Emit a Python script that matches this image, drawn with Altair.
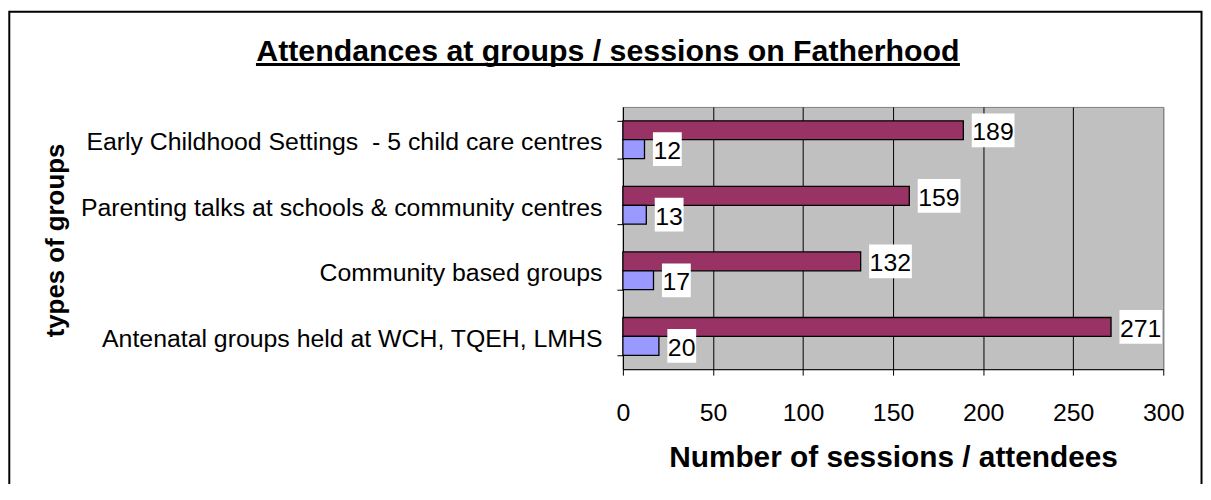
import altair as alt
import pandas as pd

# ---- data ----
categories = [
    "Early Childhood Settings \u00a0- 5 child care centres",
    "Parenting talks at schools & community centres",
    "Community based groups",
    "Antenatal groups held at WCH, TQEH, LMHS",
]
attendees = [189, 159, 132, 271]
sessions = [12, 13, 17, 20]
series = ["Attendees", "Sessions"]
colors = ["#993366", "#9999FF"]
x_ticks = [0, 50, 100, 150, 200, 250, 300]
title_text = "Attendances at groups / sessions on Fatherhood"
x_title = "Number of sessions / attendees"
y_title = "types of groups"

rows = []
for c, a, s in zip(categories, attendees, sessions):
    rows.append({"group": c, "series": series[0], "value": a})
    rows.append({"group": c, "series": series[1], "value": s})
df = pd.DataFrame(rows)
one = pd.DataFrame({"t": [title_text]})

FONT = "Liberation Sans"
W, H = 544, 264

y_enc = alt.Y(
    "group:N",
    sort=categories,
    scale=alt.Scale(paddingInner=0.424, paddingOuter=0.212),
    title=y_title,
    axis=alt.Axis(
        domainColor="black", domainWidth=1,
        tickColor="black", tickSize=6, tickWidth=1, tickBand="extent",
        labelFont=FONT, labelFontSize=25, labelColor="black",
        labelPadding=15, labelLimit=0, labelOffset=2,
        titleFont=FONT, titleFontSize=26, titleFontWeight="bold", titleColor="black",
        titleX=-563.4, titleY=134, titleBaseline="alphabetic", titleAngle=270,
        grid=False,
    ),
)
yoff = alt.YOffset("series:N", sort=series, scale=alt.Scale(paddingInner=0, paddingOuter=0))
x_enc = alt.X(
    "value:Q",
    scale=alt.Scale(domain=[0, 300], nice=False, zero=True),
    title=x_title,
    axis=alt.Axis(
        values=x_ticks, format="d",
        grid=True, gridWidth=1,
        gridColor={"condition": {"test": "datum.value === 300", "value": "#808080"}, "value": "black"},
        domainColor="black", domainWidth=1,
        tickColor="black", tickSize=6, tickWidth=1,
        labelFont=FONT, labelFontSize=25, labelColor="black",
        labelBaseline="alphabetic", labelPadding=45.7, labelFlush=False,
        titleFont=FONT, titleFontSize=30, titleFontWeight="bold", titleColor="black",
        titleX=272, titleY=98.3, titleBaseline="alphabetic",
    ),
)

base = alt.Chart(df)

bars = base.mark_bar(stroke="black", strokeWidth=1.3).encode(
    x=x_enc, y=y_enc, yOffset=yoff,
    color=alt.Color("series:N", scale=alt.Scale(domain=series, range=colors), legend=None),
)

p2 = "M0.5,-1L2.206,-1L2.206,1L0.5,1Z"
p3 = "M0.5,-1L3.03,-1L3.03,1L0.5,1Z"
boxes = base.transform_calculate(
    nd="toString(length(toString(datum.value)))"
).mark_point(filled=True, color="white", opacity=1, size=1156, strokeWidth=0).encode(
    x=x_enc, y=y_enc, yOffset=yoff,
    shape=alt.Shape("nd:N", scale=alt.Scale(domain=["2", "3"], range=[p2, p3]), legend=None),
)

labels = base.mark_text(
    align="left", baseline="middle", dx=9, dy=2, fontSize=25, font=FONT, color="black"
).encode(x=x_enc, y=y_enc, yOffset=yoff, text="value:Q")

title = alt.Chart(one).mark_text(
    align="center", baseline="alphabetic", fontSize=30.5, fontWeight="bold", font=FONT, color="black"
).encode(x=alt.value(-15.05), y=alt.value(-46.7), text="t:N")

underline = alt.Chart(one).mark_rule(color="black", strokeWidth=3).encode(
    x=alt.value(-369.4), x2=alt.value(339.3), y=alt.value(-42.7)
)

border = alt.Chart(one).mark_rect(filled=False, color="black", strokeWidth=2).encode(
    x=alt.value(-617.7), x2=alt.value(582.5), y=alt.value(-95.7), y2=alt.value(420)
)

chart = alt.layer(border, bars, boxes, labels, title, underline).properties(
    width=W, height=H,
    padding={"left": 619, "top": 98, "right": 40, "bottom": 114},
    autosize=alt.AutoSizeParams(type="none"),
    background="white",
).configure_view(fill="#C0C0C0", stroke="#808080", strokeWidth=1)

chart.save("out.html", embed_options={"renderer": "svg", "actions": False})
